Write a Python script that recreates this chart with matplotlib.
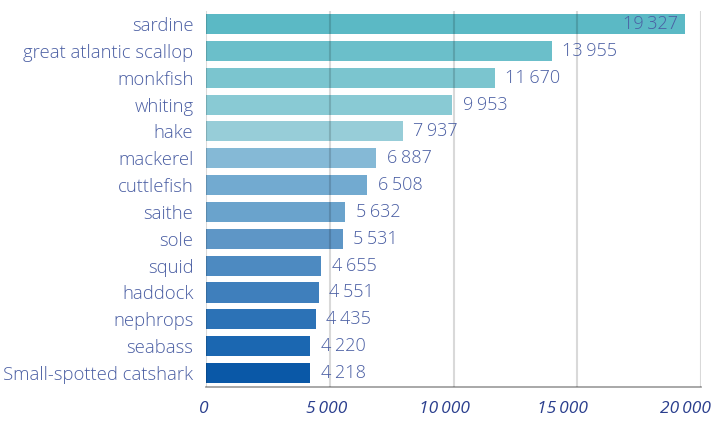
import matplotlib
matplotlib.use("Agg")
import matplotlib.pyplot as plt
from matplotlib.ticker import FuncFormatter
from matplotlib.transforms import ScaledTranslation

species = ["sardine", "great atlantic scallop", "monkfish", "whiting", "hake",
           "mackerel", "cuttlefish", "saithe", "sole", "squid", "haddock",
           "nephrops", "seabass", "Small-spotted catshark"]
values = [19327, 13955, 11670, 9953, 7937, 6887, 6508, 5632, 5531, 4655,
          4551, 4435, 4220, 4218]
colors = ["#5bb9c5", "#6bbfca", "#7bc5cf", "#89cad4", "#97cdd8", "#85b9d6",
          "#72aad0", "#6aa3cc", "#5e96c6", "#4d8ac1", "#3f7fbc", "#2c72b6",
          "#1b67b1", "#0a58a7"]
xticks = [0, 5000, 10000, 15000, 20000]

plt.rcParams["font.family"] = ["Open Sans", "DejaVu Sans"]

label_col = "#4a5ea3"
tick_col = "#2b3f8e"


def fmt(v):
    return f"{v:,.0f}".replace(",", "\u2009")


fig = plt.figure(figsize=(7.2, 4.21), dpi=100)
ax = fig.add_axes([0.286, 0.081, 0.688, 0.893])

y = list(range(len(species)))
ax.barh(y, values, height=0.75, color=colors, zorder=2)

ax.set_xlim(0, 20000)
ax.set_ylim(13.52, -0.49)
ax.set_xticks(xticks)
ax.xaxis.set_major_formatter(FuncFormatter(lambda v, p: fmt(v)))
ax.set_yticks(y)
ax.set_yticklabels(species)

ax.grid(axis="x", color="black", alpha=0.15, linewidth=1.5, zorder=3)
ax.set_axisbelow(False)
ax.grid(axis="y", visible=False)

for s in ["top", "right", "left"]:
    ax.spines[s].set_visible(False)
ax.spines["bottom"].set_color("#999999")
ax.spines["bottom"].set_linewidth(1.2)

ax.tick_params(axis="y", length=0, pad=9, labelsize=13.3, labelcolor=label_col)
ax.tick_params(axis="x", length=0, pad=10, labelsize=12.5, labelcolor=tick_col)

# the reference's tick labels sit a little left of their gridlines
shifts = [-2, -3, -9, -15, -16]
for t, dx in zip(ax.get_xticklabels(), shifts):
    t.set_fontstyle("italic")
    t.set_transform(t.get_transform() + ScaledTranslation(dx / 100, 0, fig.dpi_scale_trans))
for t in ax.get_yticklabels():
    t.set_fontweight("light")

for i, v in enumerate(values):
    if i == 0:
        ax.text(v - 280, i, fmt(v), ha="right", va="center", fontsize=13,
                color=label_col, fontweight="light", zorder=4)
    else:
        ax.text(v + 420, i, fmt(v), ha="left", va="center", fontsize=13,
                color=label_col, fontweight="light", zorder=4)

fig.savefig("out.png", dpi=100)
